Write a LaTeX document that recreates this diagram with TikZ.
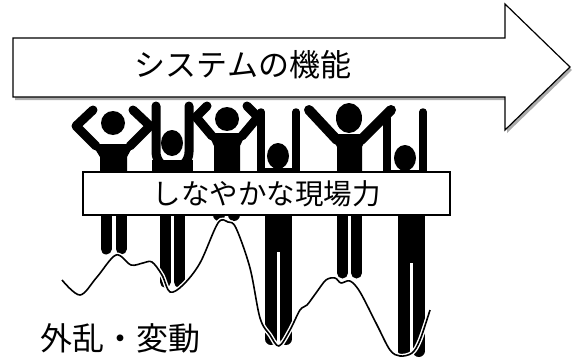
\documentclass[tikz,border=0pt]{standalone}
\usepackage{fontspec}
\newfontfamily\jpfont{Noto Sans CJK JP}
\def\limbw{9pt}
\def\legw{11pt}
\def\barw{7.5pt}
\def\edgew{1.2pt}

\begin{document}
\begin{tikzpicture}[x=1pt,y=-1pt,
	limb/.style={line width=\limbw,line cap=round,line join=round},
	bar/.style={line width=\barw,line cap=round},
	leg/.style={line width=\legw,line cap=round},
	jp/.style={font=\jpfont\fontsize{#1}{#1}\selectfont,inner sep=0pt},
	wave/.style={line width=1.6pt,line join=round,preaction={draw,white,line width=4.5pt}}
	]
	\useasboundingbox (0,0) rectangle (573,361);

	% the big arrow
	\fill[gray!65] (15,41) -- (507,41) -- (507,7) -- (572,70) -- (507,133) -- (507,100) -- (15,100) -- cycle;
	\draw[line width=\edgew,fill=white] (13,38) -- (505,38) -- (505,4) -- (570,67) -- (505,130) -- (505,97) -- (13,97) -- cycle;
	\node[jp=31] (func) at (243,65) {システムの機能};

	% people, left to right
	\fill (113,123) circle (12pt);
	\draw[limb] (96,146) -- (76,126) -- (93,110);
	\draw[limb] (130,146) -- (150,126) -- (133,110);
	\fill (92,144) -- (134,144) -- (127,157) -- (127,180) -- (100,180) -- (100,157) -- cycle;
	\draw[leg] (106,205) -- (106,249);
	\draw[leg] (121,205) -- (121,249);

	\fill (172,143) ellipse [x radius=11pt,y radius=13pt];
	\draw[limb] (156,106) -- (156,152) arc (180:360:16.5pt) -- (189,106);
	\fill (152,160) rectangle (193,180);
	\draw[leg] (165,205) -- (165,282);
	\draw[leg] (179,205) -- (179,282);

	\fill (227,119) circle (12pt);
	\draw[limb] (212,136) -- (196,117) -- (207,106);
	\draw[limb] (242,136) -- (258,117) -- (247,106);
	\fill (208,133) -- (246,133) -- (240,146) -- (240,180) -- (214,180) -- (214,146) -- cycle;
	\draw[leg,line width=12pt] (219,205) -- (219,215);
	\draw[leg,line width=12pt] (234,205) -- (234,215);

	\fill (278,156) ellipse [x radius=11pt,y radius=13pt];
	\draw[bar] (261,112) -- (261,180);
	\draw[bar] (296,112) -- (296,180);
	\fill (262,168) rectangle (295,180);
	\draw[leg,line width=12pt] (271,205) -- (271,339);
	\draw[leg,line width=12pt] (286,205) -- (286,339);
	\fill (271,205) rectangle (286,252);

	\fill (349,118) ellipse [x radius=13pt,y radius=15pt];
	\draw[limb,line width=10pt] (337,140) -- (309,110);
	\draw[limb,line width=10pt] (361,140) -- (391,110);
	\fill (331,134) -- (368,134) -- (362,147) -- (362,180) -- (337,180) -- (337,147) -- cycle;
	\draw[leg] (342.5,205) -- (342.5,273);
	\draw[leg] (356.5,205) -- (356.5,273);

	\fill (405,158) ellipse [x radius=11pt,y radius=13pt];
	\draw[bar] (387,118) -- (387,180);
	\draw[bar] (423,112) -- (423,180);
	\fill (390,170) rectangle (420,180);
	\draw[leg,line width=12pt] (403.5,205) -- (403.5,351);
	\draw[leg,line width=12pt] (418.5,205) -- (418.5,351);
	\fill (403.5,205) rectangle (418.5,263);

	% board across the people
	\node[draw,fill=white,line width=\edgew,minimum width=367pt,minimum height=43pt,jp=28.5] (genba) at (266.5,193.5) {しなやかな現場力};

	% disturbance curve
	\draw[wave] plot[smooth,tension=0.55] coordinates {(62,280) (80,295) (97,277) (116,255) (131,265) (143,263) (152,262) (162,275) (170,292) (183,285) (200,263) (218,223) (228,222) (236,228) (250,268) (260,318) (270,335) (279,346) (290,330) (300,310) (307,305) (316,293) (326,280) (335,278) (341,283) (350,281) (360,292) (377,325) (390,350) (400,356) (412,353) (420,340) (430,310)};

	\node[jp=32] (gairan) at (120,338) {外乱・変動};
\end{tikzpicture}
\end{document}
